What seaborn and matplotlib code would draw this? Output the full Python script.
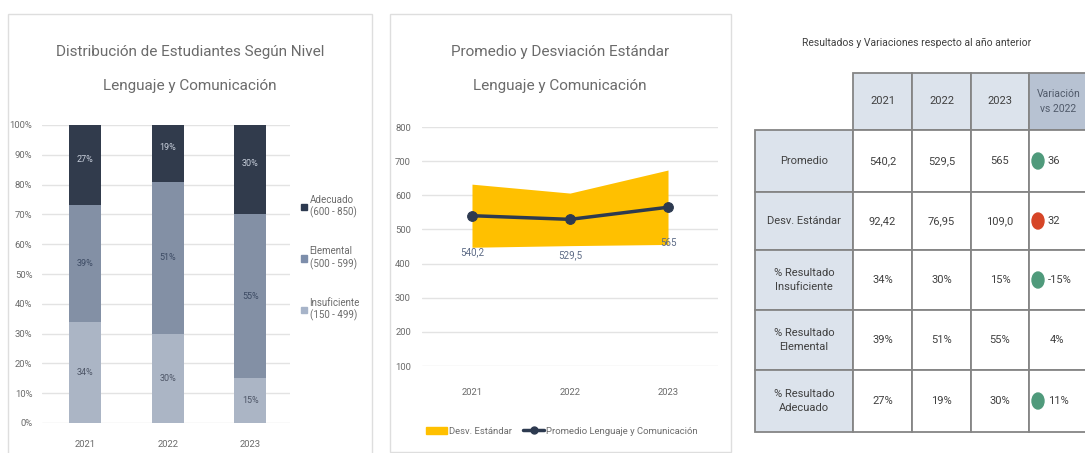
import matplotlib
matplotlib.use("Agg")
import matplotlib.pyplot as plt
import numpy as np
import pandas as pd
import seaborn as sns
from matplotlib.patches import Rectangle, Patch, Ellipse
from matplotlib.lines import Line2D

# datos
years = ["2021", "2022", "2023"]
insuficiente = [34, 30, 15]
elemental = [39, 51, 55]
adecuado = [27, 19, 30]
promedio = [540.2, 529.5, 565.0]
desv = [92.42, 76.95, 109.0]
promedio_txt = ["540,2", "529,5", "565"]
desv_txt = ["92,42", "76,95", "109,0"]
row_labels = ["Promedio", "Desv. Estándar", "% Resultado\nInsuficiente",
              "% Resultado\nElemental", "% Resultado\nAdecuado"]
variacion = ["36", "32", "-15%", "4%", "11%"]
var_estado = ["up", "down", "up", None, "up"]

sns.set_theme(style="white")
plt.rcParams["font.family"] = ["Roboto", "DejaVu Sans"]

W, H = 1085, 453
C_ADE = "#2d3a50"
C_ELE = "#7d8eab"
C_INS = "#a7b4c9"
C_GOLD = "#ffc000"
C_TXT = "#6b6b6b"
C_GRID = "#e3e3e3"
C_HDR = "#dce3ec"
C_HDR2 = "#b7c2d2"
C_LINE = "#858585"
C_VERDE = "#4f9a7b"
C_ROJO = "#d64527"


def px(x0, y0, x1, y1):
    return [x0 / W, 1 - y1 / H, (x1 - x0) / W, (y1 - y0) / H]


fig = plt.figure(figsize=(W / 100, H / 100), dpi=100)
fig.patch.set_facecolor("white")

# marcos de los paneles
for (x0, y0, x1, y1) in [(8, 14, 372, 470), (390, 14, 731, 452)]:
    fig.patches.append(Rectangle((x0 / W, 1 - y1 / H), (x1 - x0) / W, (y1 - y0) / H,
                                 transform=fig.transFigure, fill=False,
                                 edgecolor="#dedede", lw=1))

# ---- panel 1: barras apiladas ----
ax1 = fig.add_axes(px(42, 125, 290, 423))
df = pd.DataFrame({"year": years, "ins": insuficiente, "ele": elemental, "ade": adecuado})
df["tot"] = df["ins"] + df["ele"] + df["ade"]
df["ins_ele"] = df["ins"] + df["ele"]
sns.barplot(data=df, x="year", y="tot", color=C_ADE, width=0.39, ax=ax1, zorder=3)
sns.barplot(data=df, x="year", y="ins_ele", color=C_ELE, width=0.39, ax=ax1, zorder=3)
sns.barplot(data=df, x="year", y="ins", color=C_INS, width=0.39, ax=ax1, zorder=3)
for p in ax1.patches:
    p.set_edgecolor("none")
    p.set_alpha(1)
for i in range(len(years)):
    ax1.text(i, insuficiente[i] / 2, f"{insuficiente[i]}%", ha="center", va="center",
             color="#4d5566", fontsize=6.5, zorder=4)
    ax1.text(i, insuficiente[i] + elemental[i] / 2, f"{elemental[i]}%", ha="center",
             va="center", color="#3c4a63", fontsize=6.5, zorder=4)
    ax1.text(i, df["ins_ele"][i] + adecuado[i] / 2 + 2, f"{adecuado[i]}%", ha="center",
             va="center", color="#c9d0dc", fontsize=6.5, zorder=4)
ax1.set_xlim(-0.52, 2.48)
ax1.set_ylim(0, 100)
ax1.set_yticks(range(0, 101, 10))
ax1.set_yticklabels([f"{v}%" for v in range(0, 101, 10)])
ax1.yaxis.grid(True, color=C_GRID, lw=1)
ax1.set_axisbelow(True)
for s in ax1.spines.values():
    s.set_visible(False)
ax1.tick_params(axis="both", colors=C_TXT, labelsize=6.8, length=0)
ax1.tick_params(axis="y", pad=7)
ax1.tick_params(axis="x", pad=12)
ax1.set_xlabel("")
ax1.set_ylabel("")
fig.text(190 / W, 1 - 52 / H, "Distribución de Estudiantes Según Nivel", ha="center",
         va="center", fontsize=11, color=C_TXT)
fig.text(190 / W, 1 - 86 / H, "Lenguaje y Comunicación", ha="center", va="center",
         fontsize=11, color=C_TXT)
hand1 = [Patch(color=C_ADE), Patch(color=C_ELE), Patch(color=C_INS)]
lab1 = ["Adecuado\n(600 - 850)", "Elemental\n(500 - 599)", "Insuficiente\n(150 - 499)"]
fig.legend(hand1, lab1, loc="upper left", bbox_to_anchor=(292 / W, 1 - 186 / H),
           frameon=False, fontsize=7, labelcolor=C_TXT, handlelength=0.6,
           handleheight=0.6, handletextpad=0.3, labelspacing=2.9)

# ---- panel 2: promedio y desviacion ----
ax2 = fig.add_axes(px(422, 127, 718, 366))
xs = np.arange(len(years))
low = [m - d for m, d in zip(promedio, desv)]
high = [m + d for m, d in zip(promedio, desv)]
ax2.fill_between(xs, low, high, color=C_GOLD, lw=0, zorder=2)
dfl = pd.DataFrame({"x": xs, "prom": promedio})
sns.lineplot(data=dfl, x="x", y="prom", color=C_ADE, lw=2.5, marker="o",
             markersize=7, markeredgecolor=C_ADE, ax=ax2, zorder=3)
for i in range(len(years)):
    ax2.annotate(promedio_txt[i], (xs[i], promedio[i]), xytext=(0, -26),
                 textcoords="offset points", ha="center", va="center",
                 fontsize=7, color="#5d6b86", zorder=4)
ax2.set_xlim(-0.51, 2.51)
ax2.set_ylim(100, 800)
ax2.set_yticks(range(100, 801, 100))
ax2.set_xticks(xs)
ax2.set_xticklabels(years)
ax2.yaxis.grid(True, color=C_GRID, lw=1)
ax2.set_axisbelow(True)
for s in ax2.spines.values():
    s.set_visible(False)
ax2.tick_params(axis="both", colors=C_TXT, labelsize=6.8, length=0)
ax2.tick_params(axis="y", pad=8)
ax2.tick_params(axis="x", pad=16)
ax2.set_xlabel("")
ax2.set_ylabel("")
fig.text(560 / W, 1 - 52 / H, "Promedio y Desviación Estándar", ha="center",
         va="center", fontsize=11, color=C_TXT)
fig.text(560 / W, 1 - 86 / H, "Lenguaje y Comunicación", ha="center", va="center",
         fontsize=11, color=C_TXT)
hand2 = [Patch(color=C_GOLD),
         Line2D([], [], color=C_ADE, lw=2.5, marker="o", markersize=5)]
fig.legend(hand2, ["Desv. Estándar", "Promedio Lenguaje y Comunicación"],
           loc="center", bbox_to_anchor=(562 / W, 1 - 431 / H), ncol=2,
           frameon=False, fontsize=6.8, labelcolor=C_TXT, handlelength=2.2,
           handletextpad=0.2, columnspacing=1.2)

# ---- panel 3: tabla ----
ax3 = fig.add_axes([0, 0, 1, 1])
ax3.set_xlim(0, W)
ax3.set_ylim(H, 0)
ax3.axis("off")
ax3.text(917, 43, "Resultados y Variaciones respecto al año anterior", ha="center",
         va="center", fontsize=7.5, color="#404040")

col_x = [755, 853, 912, 971, 1029, 1088]
row_y = [73, 130, 192, 250, 310, 370, 432]
header = years + ["Variación\nvs 2022"]
cells = [
    promedio_txt,
    desv_txt,
    [f"{v}%" for v in insuficiente],
    [f"{v}%" for v in elemental],
    [f"{v}%" for v in adecuado],
]


def cell(x0, y0, x1, y1, fc):
    ax3.add_patch(Rectangle((x0, y0), x1 - x0, y1 - y0, facecolor=fc,
                            edgecolor=C_LINE, lw=1.3))


for j, h in enumerate(header):
    fc = C_HDR2 if j == 3 else C_HDR
    cell(col_x[j + 1], row_y[0], col_x[j + 2], row_y[1], fc)
    ax3.text((col_x[j + 1] + col_x[j + 2]) / 2, (row_y[0] + row_y[1]) / 2, h,
             ha="center", va="center", fontsize=8 if j < 3 else 7.5,
             color="#404040" if j < 3 else "#505a6a", linespacing=1.6)

for i, lab in enumerate(row_labels):
    y0, y1 = row_y[i + 1], row_y[i + 2]
    yc = (y0 + y1) / 2
    cell(col_x[0], y0, col_x[1], y1, C_HDR)
    ax3.text((col_x[0] + col_x[1]) / 2, yc, lab, ha="center", va="center",
             fontsize=8, color="#404040", linespacing=1.6)
    for j in range(3):
        cell(col_x[j + 1], y0, col_x[j + 2], y1, "white")
        ax3.text((col_x[j + 1] + col_x[j + 2]) / 2, yc, cells[i][j], ha="center",
                 va="center", fontsize=8, color="#404040")
    cell(col_x[4], y0, col_x[5], y1, "white")
    est = var_estado[i]
    if est is None:
        ax3.text(1057, yc, variacion[i], ha="center", va="center", fontsize=8,
                 color="#404040")
    else:
        ax3.add_patch(Ellipse((1038, yc), 12, 16,
                              color=C_VERDE if est == "up" else C_ROJO, zorder=5))
        ax3.text(1048, yc, variacion[i], ha="left", va="center", fontsize=8,
                 color="#404040")

fig.savefig("out.png", dpi=100)
